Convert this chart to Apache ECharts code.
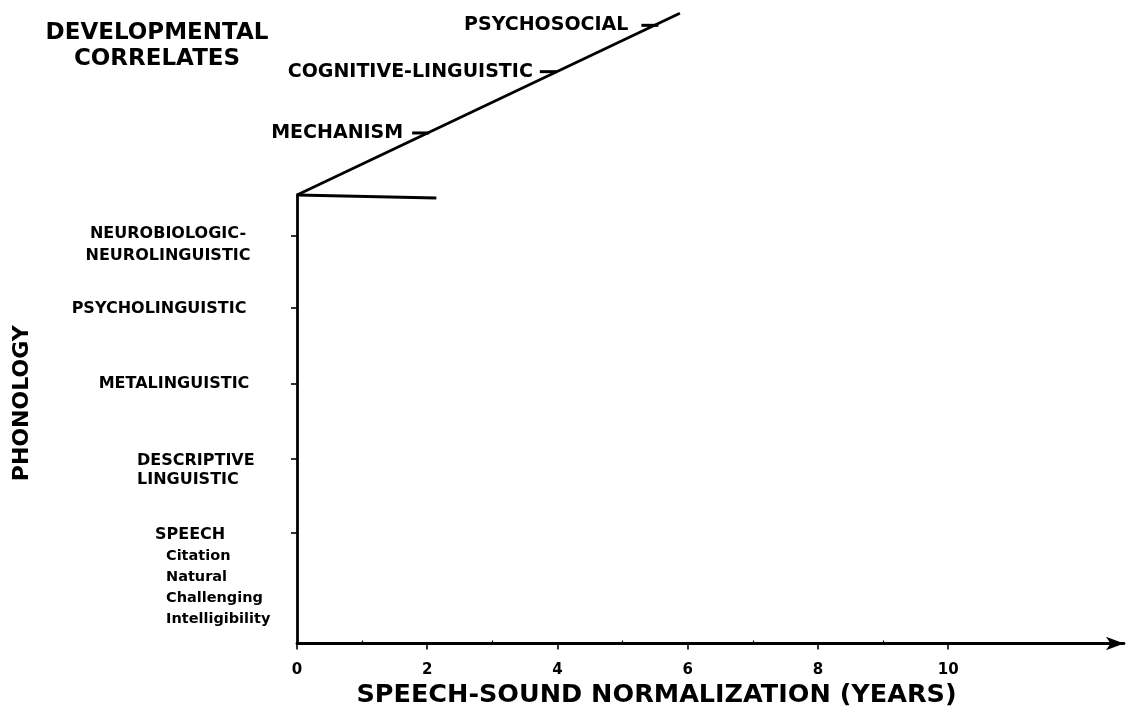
<!DOCTYPE html>
<html><head><meta charset="utf-8">
<script src="https://cdn.jsdelivr.net/npm/echarts@6/dist/echarts.min.js"></script>
<style>html,body{margin:0;padding:0;background:#fff}#c{width:1135px;height:717px}</style>
</head><body><div id="c"></div>
<script>
// ---- data ----
const xTickLabels = [0, 2, 4, 6, 8, 10];
const xMinorTicks = [1, 3, 5, 7, 9];
const phonologyLevels = ['NEUROBIOLOGIC-\nNEUROLINGUISTIC', 'PSYCHOLINGUISTIC', 'METALINGUISTIC', 'DESCRIPTIVE\nLINGUISTIC', 'SPEECH'];
const phonologyTickValues = [5.46, 4.49, 3.48, 2.47, 1.48];
const speechSubLevels = ['Citation', 'Natural', 'Challenging', 'Intelligibility'];
const correlateNames = ['MECHANISM', 'COGNITIVE-LINGUISTIC', 'PSYCHOSOCIAL'];
const correlateX = [2.03, 3.99, 5.55];
const correlateY = [6.83, 7.65, 8.27];
const correlatesLine = [[0, 6], [5.88, 8.43]];
const phonologyLine = [[0, 6], [2.14, 5.96]];

// ---- layout / style (not data) ----
const FONT = 'DejaVu Sans';
const INK = '#000000';
const phonLabelLayout = [
  { align: 'center', offset: [-129, 9] },
  { align: 'center', offset: [-138, 1] },
  { align: 'center', offset: [-123, 0] },
  { align: 'left', offset: [-160, 11], lineHeight: 19 },
  { align: 'left', offset: [-142, 44] }
];
const correlateDistance = [9, 7, 13];

const phonData = phonologyLevels.map((name, i) => {
  const lay = phonLabelLayout[i];
  const isSpeech = name === 'SPEECH';
  return {
    value: [0, phonologyTickValues[i]],
    label: {
      show: true,
      position: 'inside',
      align: lay.align,
      verticalAlign: 'middle',
      offset: lay.offset,
      color: INK, opacity: 1,
      fontFamily: FONT, fontWeight: 'bold', fontSize: 16,
      lineHeight: lay.lineHeight || 22,
      formatter: isSpeech
        ? ['{h|' + name + '}'].concat(speechSubLevels.map(s => '{s|' + s + '}')).join('\n')
        : name
    }
  };
});

const corrData = correlateNames.map((name, i) => ({
  value: [correlateX[i], correlateY[i]],
  name: name,
  label: { show: true, position: 'left', distance: correlateDistance[i], color: INK, opacity: 1,
    fontFamily: FONT, fontWeight: 'bold', fontSize: 19, formatter: name }
}));

const chart = echarts.init(document.getElementById('c'), null, { renderer: 'canvas' });
chart.setOption({
  backgroundColor: '#fff',
  animation: false,
  title: {
    text: 'DEVELOPMENTAL\nCORRELATES',
    left: 157, top: 20, padding: 0,
    textAlign: 'center',
    textStyle: { fontFamily: FONT, fontWeight: 'bold', fontSize: 23, lineHeight: 26, color: INK }
  },
  grid: { left: 297, right: 11, top: 195, bottom: 73.5, containLabel: false },
  xAxis: [{
    type: 'value', min: 0, max: 12.7,
    axisLine: { show: true, lineStyle: { color: INK, width: 2.8 }, symbol: ['none', 'arrow'], symbolSize: [10, 18] },
    axisTick: { show: true, customValues: xTickLabels, length: 6, lineStyle: { color: INK, width: 1.6 } },
    axisLabel: { customValues: xTickLabels, margin: 19, fontFamily: FONT, fontWeight: 'bold', fontSize: 15, color: INK },
    splitLine: { show: false },
    name: 'SPEECH-SOUND NORMALIZATION (YEARS)',
    nameLocation: 'middle', nameGap: 36,
    nameTextStyle: { fontFamily: FONT, fontWeight: 'bold', fontSize: 25.5, color: INK, padding: [0, 108, 0, 0] }
  }, {
    type: 'value', min: 0, max: 12.7, position: 'bottom',
    axisLine: { show: false },
    axisTick: { show: true, inside: true, customValues: xMinorTicks, length: 3, lineStyle: { color: INK, width: 1.2 } },
    axisLabel: { show: false },
    splitLine: { show: false }
  }],
  yAxis: {
    type: 'value', min: 0, max: 6,
    axisLine: { show: true, lineStyle: { color: INK, width: 2.8 } },
    axisTick: { show: true, customValues: phonologyTickValues, length: 6, lineStyle: { color: INK, width: 1.6 } },
    axisLabel: { show: false },
    splitLine: { show: false },
    name: 'PHONOLOGY',
    nameLocation: 'middle', nameRotate: 90, nameGap: 264,
    nameTextStyle: { fontFamily: FONT, fontWeight: 'bold', fontSize: 22, color: INK, padding: [0, 0, 0, 32] }
  },
  series: [
    {
      type: 'line', data: correlatesLine, showSymbol: false, clip: false,
      lineStyle: { color: INK, width: 2.8 }
    },
    {
      type: 'line', data: phonologyLine, showSymbol: false, clip: false,
      lineStyle: { color: INK, width: 2.8 }
    },
    {
      type: 'scatter', data: corrData, clip: false,
      symbol: 'rect', symbolSize: [17, 3], symbolOffset: [-8.5, 0],
      itemStyle: { color: INK, opacity: 1 },
      label: { show: true, color: INK }
    },
    {
      type: 'scatter', data: phonData, clip: false,
      symbolSize: 1, itemStyle: { color: 'rgba(0,0,0,0)' },
      label: {
        color: INK,
        rich: {
          h: { fontFamily: FONT, fontWeight: 'bold', fontSize: 16, color: INK, lineHeight: 21 },
          s: { fontFamily: FONT, fontWeight: 'bold', fontSize: 14.5, color: INK, lineHeight: 21, padding: [0, 0, 0, 11] }
        }
      }
    }
  ]
});
</script>
</body></html>
